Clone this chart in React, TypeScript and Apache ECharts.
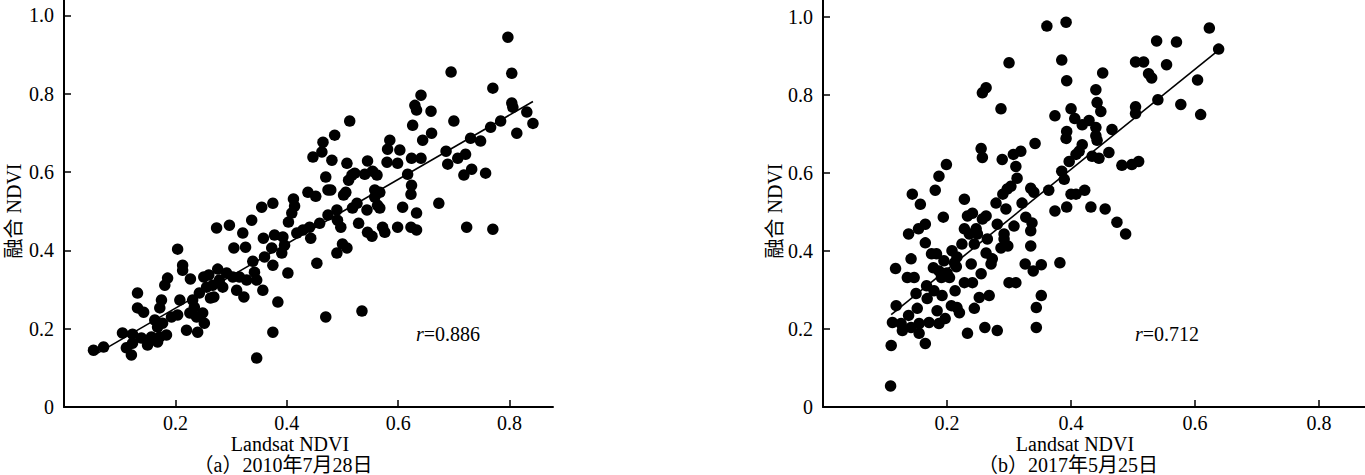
import React, { useEffect, useRef } from "react";
import * as echarts from "echarts";

const FONT = '"Liberation Serif", "Times New Roman", "Noto Sans CJK SC", serif';

// Tick values
const xTickValues = [0.2, 0.4, 0.6, 0.8];
const yTickValues = [0, 0.2, 0.4, 0.6, 0.8, 1.0];

// Texts
const xAxisName = "Landsat NDVI";
const yAxisName = "融合 NDVI";
const captionA = "（a）2010年7月28日";
const captionB = "（b）2017年5月25日";
const rA = "0.886";
const rB = "0.712";

// (a) 2010-07-28: [Landsat NDVI, fused NDVI]
const points2010: [number, number][] = [
  [0.053,0.145],[0.071,0.153],[0.105,0.189],[0.112,0.151],[0.121,0.133],[0.123,0.186],[0.123,0.163],[0.132,0.291],[0.132,0.253],[0.143,0.242],
  [0.139,0.176],[0.150,0.158],[0.157,0.179],[0.163,0.222],[0.168,0.204],[0.172,0.179],[0.168,0.166],[0.175,0.273],[0.172,0.253],[0.181,0.311],
  [0.186,0.329],[0.177,0.214],[0.184,0.184],[0.193,0.230],[0.204,0.403],[0.208,0.273],[0.213,0.362],[0.213,0.349],[0.204,0.235],[0.220,0.196],
  [0.226,0.240],[0.227,0.327],[0.231,0.273],[0.234,0.255],[0.240,0.191],[0.238,0.230],[0.243,0.291],[0.249,0.240],[0.251,0.332],[0.252,0.214],
  [0.256,0.306],[0.260,0.337],[0.263,0.278],[0.269,0.281],[0.267,0.311],[0.274,0.457],[0.276,0.352],[0.279,0.324],[0.285,0.306],[0.292,0.342],
  [0.297,0.464],[0.303,0.332],[0.305,0.406],[0.310,0.298],[0.315,0.332],[0.321,0.444],[0.323,0.281],[0.326,0.408],[0.328,0.324],[0.337,0.477],
  [0.339,0.372],[0.342,0.344],[0.346,0.324],[0.346,0.125],[0.355,0.510],[0.357,0.298],[0.358,0.431],[0.360,0.383],[0.373,0.406],[0.375,0.520],
  [0.375,0.362],[0.375,0.191],[0.378,0.439],[0.384,0.268],[0.391,0.393],[0.393,0.434],[0.396,0.413],[0.402,0.342],[0.403,0.472],[0.409,0.495],
  [0.412,0.531],[0.414,0.513],[0.418,0.444],[0.429,0.452],[0.438,0.548],[0.441,0.459],[0.443,0.431],[0.452,0.538],[0.454,0.367],[0.459,0.469],
  [0.470,0.230],[0.474,0.490],[0.474,0.554],[0.447,0.638],
  [0.465,0.676],[0.463,0.651],[0.486,0.694],[0.513,0.730],[0.481,0.630],[0.470,0.587],[0.479,0.554],[0.508,0.622],[0.502,0.541],[0.506,0.548],
  [0.490,0.503],[0.491,0.477],[0.497,0.459],[0.490,0.393],[0.500,0.416],[0.508,0.406],[0.511,0.579],[0.517,0.592],[0.522,0.597],[0.518,0.508],
  [0.526,0.520],[0.529,0.469],[0.540,0.594],[0.545,0.628],[0.544,0.503],[0.545,0.446],[0.553,0.436],[0.554,0.602],[0.562,0.592],[0.558,0.554],
  [0.567,0.548],[0.558,0.536],[0.563,0.515],[0.567,0.508],[0.572,0.459],[0.576,0.446],[0.580,0.625],[0.581,0.658],[0.585,0.681],[0.599,0.622],
  [0.603,0.656],[0.599,0.459],[0.608,0.510],[0.617,0.594],[0.624,0.635],[0.624,0.566],[0.623,0.543],[0.626,0.719],[0.623,0.459],[0.633,0.495],
  [0.633,0.452],[0.630,0.770],[0.633,0.758],[0.641,0.796],[0.641,0.635],[0.644,0.681],[0.659,0.755],[0.660,0.699],[0.673,0.520],[0.686,0.653],
  [0.689,0.620],[0.700,0.730],[0.707,0.635],[0.721,0.645],[0.718,0.592],[0.732,0.607],[0.723,0.459],[0.730,0.686],[0.748,0.679],[0.757,0.597],
  [0.766,0.714],[0.770,0.814],[0.770,0.454],[0.784,0.730],[0.804,0.776],[0.806,0.765],[0.813,0.699],[0.831,0.753],[0.842,0.724],[0.535,0.245],
  [0.797,0.944],[0.804,0.852],[0.695,0.855]
];

// (b) 2017-05-25
const points2017: [number, number][] = [
  [0.109,0.054],[0.110,0.158],[0.112,0.217],[0.117,0.355],[0.118,0.260],[0.126,0.214],[0.128,0.196],[0.138,0.235],[0.138,0.444],[0.142,0.204],
  [0.142,0.380],[0.136,0.332],[0.147,0.332],[0.144,0.546],[0.150,0.291],[0.152,0.253],[0.154,0.457],[0.157,0.520],[0.155,0.214],[0.155,0.189],
  [0.165,0.163],[0.165,0.469],[0.165,0.421],[0.167,0.311],[0.168,0.278],[0.171,0.217],[0.175,0.393],[0.178,0.357],[0.179,0.298],[0.181,0.556],
  [0.183,0.393],[0.184,0.247],[0.187,0.592],[0.187,0.349],[0.187,0.214],[0.191,0.332],[0.192,0.286],[0.194,0.487],[0.195,0.375],[0.197,0.227],
  [0.199,0.622],[0.200,0.344],[0.204,0.332],[0.207,0.260],[0.208,0.401],[0.212,0.370],[0.215,0.360],[0.213,0.298],[0.216,0.255],[0.220,0.242],
  [0.216,0.385],[0.224,0.418],[0.228,0.533],[0.228,0.457],[0.228,0.319],[0.233,0.189],[0.233,0.490],[0.236,0.444],[0.239,0.367],[0.241,0.319],
  [0.241,0.497],[0.244,0.418],[0.244,0.253],[0.247,0.457],[0.249,0.444],[0.252,0.281],[0.255,0.342],[0.255,0.663],[0.257,0.640],[0.257,0.482],
  [0.261,0.204],[0.263,0.490],[0.263,0.395],[0.265,0.431],[0.268,0.286],[0.271,0.367],[0.273,0.380],[0.279,0.523],[0.281,0.196],[0.281,0.469],
  [0.287,0.408],[0.289,0.635],[0.290,0.546],[0.292,0.444],[0.292,0.431],[0.295,0.508],[0.297,0.559],[0.298,0.413],[0.303,0.566],[0.300,0.319],
  [0.307,0.648],[0.308,0.464],[0.311,0.319],[0.311,0.617],[0.313,0.587],[0.319,0.656],[0.321,0.523],[0.326,0.367],[0.327,0.487],[0.335,0.561],
  [0.335,0.452],[0.335,0.413],[0.337,0.472],[0.339,0.349],[0.342,0.676],[0.344,0.204],[0.344,0.255],[0.257,0.806],[0.263,0.819],
  [0.361,0.977],[0.392,0.987],[0.300,0.883],[0.385,0.890],[0.393,0.837],[0.287,0.765],[0.374,0.747],[0.400,0.765],[0.406,0.740],[0.418,0.724],
  [0.429,0.735],[0.440,0.814],[0.442,0.781],[0.448,0.758],[0.451,0.857],[0.440,0.717],[0.440,0.696],[0.442,0.684],[0.466,0.712],[0.461,0.653],
  [0.445,0.638],[0.434,0.643],[0.418,0.673],[0.413,0.656],[0.408,0.648],[0.393,0.707],[0.392,0.689],[0.397,0.630],[0.385,0.605],[0.389,0.584],
  [0.504,0.885],[0.517,0.885],[0.525,0.855],[0.530,0.844],[0.554,0.878],[0.538,0.939],[0.570,0.936],[0.623,0.972],[0.638,0.918],[0.604,0.839],
  [0.577,0.776],[0.609,0.750],[0.540,0.788],[0.504,0.770],[0.504,0.753],[0.482,0.620],[0.498,0.622],[0.509,0.630],[0.364,0.556],[0.374,0.503],
  [0.393,0.513],[0.400,0.546],[0.408,0.546],[0.422,0.556],[0.432,0.513],[0.455,0.508],[0.474,0.474],[0.488,0.444],[0.382,0.370],[0.352,0.365],
  [0.352,0.286],[0.340,0.551]
];

// Fitted line end points
const fit2010: [number, number][] = [[0.055, 0.133], [0.842, 0.780]];
const fit2017: [number, number][] = [[0.110, 0.237], [0.640, 0.918]];

function makeX(gridIndex: number, max: number) {
  return {
    gridIndex,
    type: "value",
    min: 0,
    max,
    interval: 0.2,
    splitLine: { show: false },
    axisLine: { lineStyle: { color: "#000", width: 2 } },
    axisTick: { inside: true, length: 7, customValues: xTickValues, lineStyle: { color: "#000", width: 1.5 } },
    axisLabel: {
      customValues: xTickValues,
      color: "#000",
      fontFamily: FONT,
      fontSize: 20,
      lineHeight: 20,
      margin: 6,
      formatter: (v: number) => v.toFixed(1),
    },
  };
}

function makeY(gridIndex: number, max: number) {
  return {
    gridIndex,
    type: "value",
    min: 0,
    max,
    interval: 0.2,
    splitLine: { show: false },
    axisLine: { lineStyle: { color: "#000", width: 2 } },
    axisTick: { inside: true, length: 7, customValues: yTickValues.slice(1), lineStyle: { color: "#000", width: 1.5 } },
    axisLabel: {
      customValues: yTickValues,
      color: "#000",
      fontFamily: FONT,
      fontSize: 20,
      lineHeight: 20,
      margin: 10,
      formatter: (v: number) => (v === 0 ? "0" : v.toFixed(1)),
    },
  };
}

function txt(x: number, y: number, text: string, opts: any = {}) {
  return {
    type: "text",
    x,
    y,
    rotation: opts.rotation || 0,
    style: {
      text,
      fill: "#000",
      fontFamily: FONT,
      fontSize: 20,
      lineHeight: 20,
      align: opts.align || "center",
      verticalAlign: "middle",
      rich: opts.rich,
    },
  };
}

const richR = { i: { fontStyle: "italic", fontFamily: FONT, fontSize: 20, lineHeight: 20, fill: "#000" } };

export default function App() {
  const ref = useRef<HTMLDivElement>(null);
  useEffect(() => {
    const chart = echarts.init(ref.current!, null, { renderer: "svg" });
    chart.setOption({
      animation: false,
      backgroundColor: "#fff",
      grid: [
        { left: 64, top: 0, width: 489, height: 407 },
        { left: 823, top: 0, width: 543, height: 407 },
      ],
      xAxis: [makeX(0, 0.878), makeX(1, 0.874)],
      yAxis: [makeY(0, 1.039), makeY(1, 1.044)],
      series: [
        {
          type: "line",
          xAxisIndex: 0,
          yAxisIndex: 0,
          data: fit2010,
          symbol: "none",
          lineStyle: { color: "#000", width: 1.6 },
          z: 2,
        },
        {
          type: "line",
          xAxisIndex: 1,
          yAxisIndex: 1,
          data: fit2017,
          symbol: "none",
          lineStyle: { color: "#000", width: 1.6 },
          z: 2,
        },
        {
          type: "scatter",
          xAxisIndex: 0,
          yAxisIndex: 0,
          data: points2010,
          symbol: "circle",
          symbolSize: 11.5,
          itemStyle: { color: "#000", opacity: 1 },
          z: 3,
        },
        {
          type: "scatter",
          xAxisIndex: 1,
          yAxisIndex: 1,
          data: points2017,
          symbol: "circle",
          symbolSize: 11.5,
          itemStyle: { color: "#000", opacity: 1 },
          z: 3,
        },
      ],
      graphic: [
        txt(290, 444, xAxisName),
        txt(283, 465, captionA),
        txt(14, 211, yAxisName, { rotation: Math.PI / 2 }),
        txt(416, 334, "{i|r}=" + rA, { align: "left", rich: richR }),
        txt(1075, 444, xAxisName),
        txt(1068, 465, captionB),
        txt(775, 211, yAxisName, { rotation: Math.PI / 2 }),
        txt(1135, 334, "{i|r}=" + rB, { align: "left", rich: richR }),
      ],
    });
    return () => chart.dispose();
  }, []);
  return (
    <div
      ref={ref}
      style={{ position: "absolute", left: 0, top: 0, width: 1365, height: 475, background: "#fff" }}
    />
  );
}
